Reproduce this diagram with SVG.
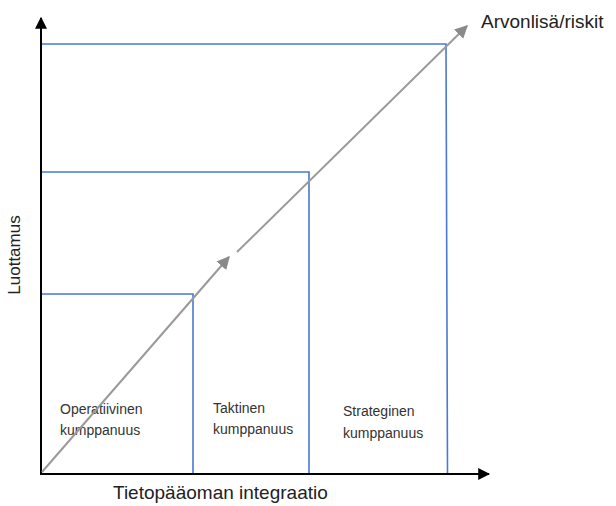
<svg xmlns="http://www.w3.org/2000/svg" width="616" height="506" viewBox="0 0 616 506">
  <defs>
    <style>
      .axis { stroke: #000; stroke-width: 2; fill: none; }
      .band { stroke: #4a78d4; stroke-width: 1.6; fill: none; }
      .trend { stroke: #9a9a9a; stroke-width: 2; fill: none; }
      .lbl { font-family: "Liberation Sans", Arial, sans-serif; fill: #333; font-size: 14px; }
      .title { font-family: "Liberation Sans", Arial, sans-serif; fill: #222; font-size: 19px; }
    </style>
    <marker id="axisHead" viewBox="0 0 10 10" refX="9" refY="5" markerWidth="6" markerHeight="6" orient="auto" markerUnits="strokeWidth">
      <path d="M0,0 L10,5 L0,10 Z" fill="#000"/>
    </marker>
    <marker id="trendHead" viewBox="0 0 10 10" refX="9" refY="5" markerWidth="6.5" markerHeight="6.5" orient="auto" markerUnits="strokeWidth">
      <path d="M0,0 L10,5 L0,10 Z" fill="#8a8a8a"/>
    </marker>
  </defs>

  <rect width="616" height="506" fill="#fff"/>

  <!-- partnership levels -->
  <g id="operatiivinen">
    <polyline class="band" points="41,294 193,294 193,474"/>
    <text class="lbl" x="60" y="414">Operatiivinen</text>
    <text class="lbl" x="60" y="435">kumppanuus</text>
  </g>
  <g id="taktinen">
    <polyline class="band" points="41,172 309,172 309,474"/>
    <text class="lbl" x="213" y="413">Taktinen</text>
    <text class="lbl" x="213" y="434">kumppanuus</text>
  </g>
  <g id="strateginen">
    <polyline class="band" points="41,44 446,44 447.5,474"/>
    <text class="lbl" x="343" y="416">Strateginen</text>
    <text class="lbl" x="343" y="438">kumppanuus</text>
  </g>

  <!-- axes and trend arrows -->
  <g id="connectors">
    <line class="axis" x1="41" y1="474" x2="41" y2="18" marker-end="url(#axisHead)"/>
    <line class="axis" x1="40" y1="474" x2="489" y2="474" marker-end="url(#axisHead)"/>
    <line class="trend" x1="42" y1="472" x2="229" y2="257" marker-end="url(#trendHead)"/>
    <line class="trend" x1="237" y1="252" x2="467" y2="26" marker-end="url(#trendHead)"/>
  </g>

  <g id="labels">
    <text class="title" x="481" y="28">Arvonlisä/riskit</text>
    <text class="title" x="113" y="499">Tietopääoman integraatio</text>
    <text class="title" style="font-size:17px" transform="translate(20,255) rotate(-90)" text-anchor="middle">Luottamus</text>
  </g>
</svg>
